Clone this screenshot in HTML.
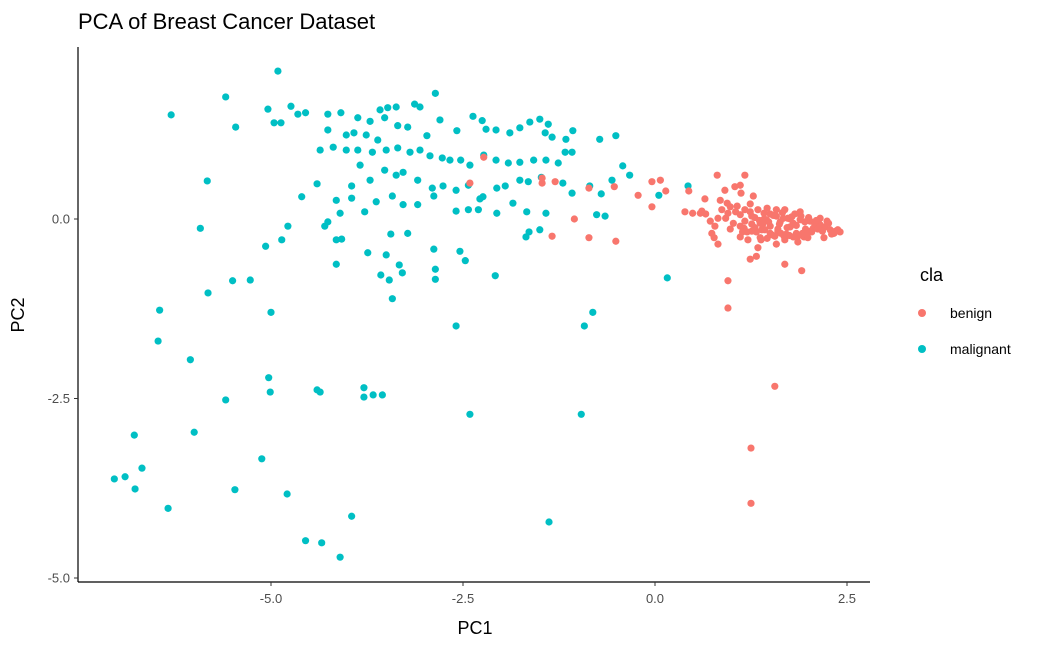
<!DOCTYPE html>
<html><head><meta charset="utf-8"><style>
body{margin:0;background:#fff;font-family:"Liberation Sans",sans-serif}
svg text{font-family:"Liberation Sans",sans-serif}
</style></head><body>
<svg id="c" width="1050" height="648">
<text x="78" y="29" font-size="22" fill="#000">PCA of Breast Cancer Dataset</text>
<g id="pts"></g>
<line x1="78" y1="47" x2="78" y2="582" stroke="#000" stroke-width="1.2"/>
<line x1="78" y1="582" x2="870" y2="582" stroke="#000" stroke-width="1.2"/>
<g id="ticks"></g>
<text x="475" y="634" font-size="18" text-anchor="middle">PC1</text>
<text transform="translate(24,315) rotate(-90)" font-size="18" text-anchor="middle">PC2</text>
<g>
<text x="920" y="281" font-size="18">cla</text>
<circle cx="922" cy="313" r="4" fill="#F8766D"/>
<text x="950" y="318" font-size="14">benign</text>
<circle cx="922" cy="349" r="4" fill="#00BFC4"/>
<text x="950" y="354" font-size="14">malignant</text>
</g>
</svg>
<script>
const xTicks=[-5,-2.5,0,2.5];
const xTickLabels=["-5.0","-2.5","0.0","2.5"];
const yTicks=[0,-2.5,-5];
const yTickLabels=["0.0","-2.5","-5.0"];
const malignantX=[-4.91,-5.59,-6.30,-5.46,-5.04,-4.96,-4.87,-4.74,-4.65,-4.55,-2.86,-5.83,-5.92,-4.60,-4.78,-5.07,-4.86,-5.27,-5.50,-5.82,-6.45,-5.00,-6.47,-6.05,-5.03,-5.01,-5.59,-4.40,-4.36,-3.79,-3.79,-3.67,-3.55,-6.78,-6.00,-7.04,-6.90,-6.68,-6.77,-6.34,-5.47,-5.12,-4.79,-4.55,-4.34,-4.10,-3.95,-2.41,-0.96,-1.38,-2.59,-0.92,-0.81,-2.08,0.16,
-4.26,-4.09,-3.87,-3.71,-3.58,-3.48,-3.37,-3.13,-3.06,-3.52,-3.35,-3.22,-2.97,-2.80,-2.58,-2.37,-2.25,-2.20,-2.07,-1.89,-1.76,-1.63,-1.50,-1.39,-1.43,-1.34,-1.16,-1.07,-0.72,-0.51,-1.17,-1.08,-1.26,-1.42,-1.58,-1.76,-1.91,-2.07,-2.23,-2.41,-2.53,-2.67,-2.77,-2.93,-3.06,-3.19,-3.35,-3.50,-3.68,-3.87,-4.02,-4.19,-4.36,-4.26,-4.02,-3.92,-3.76,-3.61,-3.84,-3.71,-3.52,-3.37,-3.28,-3.09,-2.90,-2.76,-2.59,-2.43,-2.28,-2.43,-2.24,-2.06,-1.95,-1.85,-1.76,-1.65,-1.48,-1.20,-1.08,-0.85,-0.70,-0.56,-0.42,-0.33,-1.42,-1.67,-1.68,-1.50,-1.64,-2.06,-2.30,-2.59,-2.88,-3.09,-3.28,-3.42,-3.63,-3.78,-3.95,-4.10,-4.26,-4.08,-4.15,-4.30,-3.95,-4.15,-4.40,-2.88,-2.54,-2.47,-2.86,-2.86,-3.29,-3.33,-3.46,-3.57,-3.44,-3.22,-3.50,-3.42,-3.74,-4.15,-0.76,-0.65,0.05,0.43];
const malignantY=[2.06,1.70,1.45,1.28,1.53,1.34,1.34,1.57,1.46,1.48,1.75,0.53,-0.13,0.31,-0.10,-0.38,-0.29,-0.85,-0.86,-1.03,-1.27,-1.30,-1.70,-1.96,-2.21,-2.41,-2.52,-2.38,-2.41,-2.35,-2.48,-2.45,-2.45,-3.01,-2.97,-3.62,-3.59,-3.47,-3.76,-4.03,-3.77,-3.34,-3.83,-4.48,-4.51,-4.71,-4.14,-2.72,-2.72,-4.22,-1.49,-1.49,-1.30,-0.79,-0.82,
1.46,1.48,1.41,1.36,1.52,1.55,1.56,1.60,1.56,1.41,1.30,1.28,1.16,1.38,1.23,1.43,1.37,1.25,1.24,1.20,1.27,1.35,1.39,1.32,1.20,1.14,1.11,1.23,1.11,1.16,0.93,0.93,0.78,0.82,0.82,0.79,0.78,0.82,0.89,0.75,0.82,0.82,0.85,0.88,0.96,0.93,0.99,0.96,0.93,0.96,0.96,1.00,0.96,1.24,1.17,1.20,1.17,1.10,0.75,0.54,0.68,0.61,0.65,0.54,0.43,0.46,0.40,0.47,0.28,0.13,0.31,0.43,0.46,0.22,0.54,0.52,0.58,0.50,0.36,0.46,0.35,0.54,0.74,0.61,0.08,0.10,-0.25,-0.15,-0.18,0.08,0.13,0.11,0.32,0.20,0.20,0.32,0.24,0.10,0.29,0.08,-0.04,-0.28,-0.29,-0.10,0.46,0.26,0.49,-0.42,-0.45,-0.58,-0.70,-0.84,-0.75,-0.64,-0.85,-0.78,-0.21,-0.20,-0.50,-1.11,-0.47,-0.63,0.06,0.04,0.33,0.46];
const benignX=[-2.23,-2.41,-1.47,-1.30,-1.47,-1.34,-1.05,-0.86,-0.53,-0.86,-0.51,-0.22,-0.04,0.07,-0.04,0.14,0.39,0.44,0.65,0.81,1.04,1.11,1.17,1.12,1.28,0.59,0.72,0.74,0.77,0.82,0.94,0.87,0.98,1.07,1.17,1.24,1.34,1.42,1.50,1.58,1.67,1.76,1.82,1.89,1.95,2.02,2.08,2.15,2.21,2.28,2.33,2.20,2.04,1.94,1.84,1.71,1.60,1.50,1.37,1.26,1.17,1.11,1.02,0.92,0.82,0.66,0.49,0.98,1.16,1.26,1.37,1.50,1.58,1.69,1.86,1.99,1.76,1.63,1.39,1.21,1.11,1.24,1.46,1.69,1.89,2.15,2.41,1.38,1.34,1.32,1.24,0.95,0.95,1.56,1.25,1.25,1.69,1.91,1.43,1.58,1.73,1.11,1.26,1.45,0.95,0.78,0.61,1.80,2.12,2.24,2.38,0.85,0.91,
1.30,1.36,1.42,1.48,1.54,1.62,1.66,1.72,1.78,1.84,1.90,1.96,2.00,2.06,2.10,2.18,2.26,1.32,1.40,1.52,1.60,1.68,1.80,1.92,2.02,2.12,1.20,1.30,1.46,1.56,1.64,1.75,1.86,1.98,2.30,2.35,1.05,1.14];
const benignY=[0.86,0.50,0.57,0.52,0.50,-0.24,0.00,0.43,0.45,-0.26,-0.31,0.33,0.52,0.54,0.17,0.39,0.10,0.39,0.28,0.61,0.45,0.47,0.61,0.36,0.32,0.08,-0.03,-0.20,-0.26,-0.35,0.22,0.13,0.17,0.18,0.13,0.10,0.13,0.08,0.07,0.04,0.01,0.00,0.07,-0.01,-0.04,-0.03,-0.07,-0.08,-0.11,-0.15,-0.20,-0.26,-0.18,-0.25,-0.20,-0.21,-0.14,-0.10,-0.06,-0.07,-0.03,-0.10,-0.06,0.01,0.01,0.07,0.08,-0.14,-0.13,-0.17,-0.26,-0.20,-0.35,-0.29,-0.32,-0.26,-0.11,-0.04,-0.15,-0.29,-0.25,0.21,0.15,0.13,0.10,0.01,-0.18,-0.29,-0.40,-0.52,-0.56,-0.86,-1.24,-2.33,-3.19,-3.96,-0.63,-0.72,-0.15,0.13,0.01,0.06,0.04,-0.01,0.08,-0.10,0.11,-0.06,-0.03,-0.03,-0.15,0.26,0.40,
0.02,-0.02,0.00,-0.04,0.05,-0.07,0.09,-0.12,0.03,-0.09,0.04,-0.14,0.02,-0.13,-0.02,-0.17,-0.06,-0.18,-0.08,-0.22,-0.17,-0.24,-0.25,-0.20,-0.17,-0.14,-0.18,-0.12,-0.27,-0.24,-0.20,-0.23,-0.24,-0.22,-0.21,-0.17,0.10,-0.18];
const NS="http://www.w3.org/2000/svg";
const sx=v=>655+76.8*v, sy=v=>219-71.8*v;
const pts=document.getElementById('pts'), tk=document.getElementById('ticks');
function dot(x,y,col,name){const c=document.createElementNS(NS,'circle');c.setAttribute('cx',sx(x));c.setAttribute('cy',sy(y));c.setAttribute('r',3.6);c.setAttribute('fill',col);


pts.appendChild(c);}
malignantX.forEach((x,i)=>dot(x,malignantY[i],'#00BFC4','malignant-point'));
benignX.forEach((x,i)=>dot(x,benignY[i],'#F8766D','benign-point'));
xTicks.forEach((v,i)=>{const l=document.createElementNS(NS,'line');l.setAttribute('x1',sx(v));l.setAttribute('x2',sx(v));l.setAttribute('y1',582);l.setAttribute('y2',586);l.setAttribute('stroke','#333');


tk.appendChild(l);
const t=document.createElementNS(NS,'text');t.setAttribute('x',sx(v));t.setAttribute('y',603);t.setAttribute('font-size','13');t.setAttribute('fill','#4d4d4d');t.setAttribute('text-anchor','middle');t.textContent=xTickLabels[i];


tk.appendChild(t);});
yTicks.forEach((v,i)=>{const l=document.createElementNS(NS,'line');l.setAttribute('x1',74);l.setAttribute('x2',78);l.setAttribute('y1',sy(v));l.setAttribute('y2',sy(v));l.setAttribute('stroke','#333');


tk.appendChild(l);
const t=document.createElementNS(NS,'text');t.setAttribute('x',70);t.setAttribute('y',sy(v)+4.5);t.setAttribute('font-size','13');t.setAttribute('fill','#4d4d4d');t.setAttribute('text-anchor','end');t.textContent=yTickLabels[i];


tk.appendChild(t);});
</script>
</body></html>
